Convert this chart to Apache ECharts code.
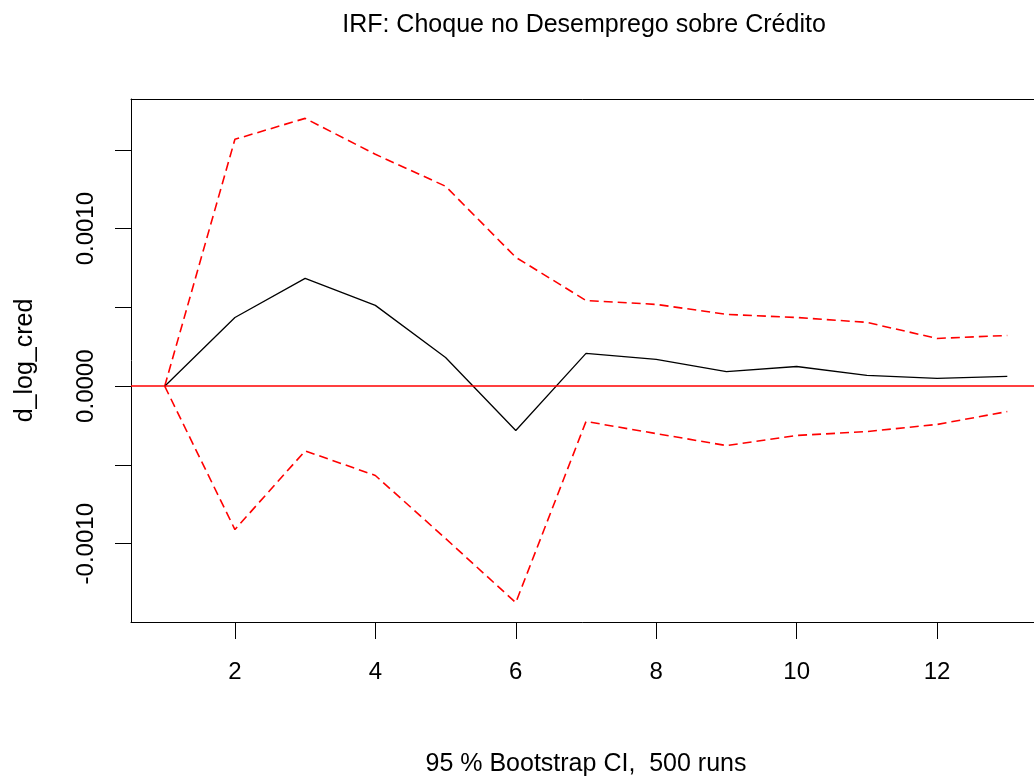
<!DOCTYPE html>
<html>
<head>
<meta charset="utf-8">
<script src="https://cdn.jsdelivr.net/npm/echarts@6/dist/echarts.min.js"></script>
<style>
    html, body { margin: 0; padding: 0; background: #fff; }
    #echarts-irf-graph { width: 1034px; height: 780px; }
</style>
</head>
<body>
<div id="echarts-irf-graph"></div>
<script>
// horizons of the impulse response
let horizons = [1, 2, 3, 4, 5, 6, 7, 8, 9, 10, 11, 12, 13];
// orthogonalised IRF: shock in unemployment -> d_log_cred
let irf_values = [0, 0.000436, 0.000684, 0.000513, 0.000182, -0.000281, 0.000208,
    0.000170, 0.000093, 0.000125, 0.000068, 0.000049, 0.000062];
// 95 % bootstrap band
let upper_ci = [0, 0.001567, 0.001700, 0.001472, 0.001269, 0.000818, 0.000544,
    0.000519, 0.000456, 0.000436, 0.000405, 0.000303, 0.000322];
let lower_ci = [0, -0.000910, -0.000411, -0.000567, -0.000967, -0.001374, -0.000224,
    -0.000301, -0.000377, -0.000313, -0.000288, -0.000243, -0.000161];
let x_ticks = [2, 4, 6, 8, 10, 12];
let y_ticks = [-0.0010, -0.0005, 0, 0.0005, 0.0010, 0.0015];
let y_labels = [-0.0010, 0, 0.0010];

const FONT = 'Liberation Sans, Arial, sans-serif';
const CI_COLOR = '#ff0000';

let echarts_irf_graph = echarts.init(document.getElementById('echarts-irf-graph'));

function pairs(values) {
    return horizons.map(function (h, i) { return [h, values[i]]; });
}

// R style axis range: data range stretched by 4% on both sides
function r_range(values) {
    let lo = Math.min.apply(null, values);
    let hi = Math.max.apply(null, values);
    let pad = (hi - lo) * 0.04;
    return [lo - pad, hi + pad];
}

let x_range = r_range(horizons);
let y_range = r_range(irf_values.concat(upper_ci, lower_ci));

let ci_line = {
    color: CI_COLOR,
    width: 1.6,
    type: [9, 5]
};

let echarts_options = {
    animation: false,
    backgroundColor: '#fff',
    title: {
        text: 'IRF: Choque no Desemprego sobre Crédito',
        left: 579,
        top: 8,
        textAlign: 'center',
        textStyle: {
            fontFamily: FONT,
            fontSize: 25,
            fontWeight: 'normal',
            color: '#000'
        }
    },
    // the plot box runs past the right edge of the picture, so no right border
    grid: {
        left: 131,
        top: 99,
        width: 910,
        height: 523,
        outerBoundsMode: 'none',
        show: false
    },
    xAxis: [
        {
            type: 'value',
            min: x_range[0],
            max: x_range[1],
            name: '95 % Bootstrap CI,  500 runs',
            nameLocation: 'middle',
            nameGap: 130,
            nameTextStyle: { fontFamily: FONT, fontSize: 25, color: '#000' },
            splitLine: { show: false },
            axisLine: { onZero: false, lineStyle: { color: '#000', width: 1 } },
            axisTick: {
                length: 17,
                customValues: x_ticks,
                lineStyle: { color: '#000', width: 1 }
            },
            axisLabel: {
                customValues: x_ticks,
                margin: 38,
                fontFamily: FONT,
                fontSize: 24,
                color: '#000'
            }
        },
        {
            // top edge of the box
            type: 'value',
            position: 'top',
            min: x_range[0],
            max: x_range[1],
            splitLine: { show: false },
            axisLine: { show: true, onZero: false, lineStyle: { color: '#000', width: 1 } },
            axisTick: { show: false },
            axisLabel: { show: false }
        }
    ],
    yAxis: {
        type: 'value',
        min: y_range[0],
        max: y_range[1],
        name: 'd_log_cred',
        nameLocation: 'middle',
        nameGap: 93,
        nameRotate: 90,
        nameTextStyle: { fontFamily: FONT, fontSize: 25, color: '#000' },
        splitLine: { show: false },
        axisLine: { show: true, onZero: false, lineStyle: { color: '#000', width: 1 } },
        axisTick: {
            show: true,
            length: 16,
            customValues: y_ticks,
            lineStyle: { color: '#000', width: 1 }
        },
        axisLabel: {
            customValues: y_labels,
            rotate: 90,
            margin: 33,
            fontFamily: FONT,
            fontSize: 24,
            color: '#000',
            formatter: function (v) { return v.toFixed(4); }
        }
    },
    series: [
        {
            name: 'upper',
            type: 'line',
            symbol: 'none',
            lineStyle: ci_line,
            data: pairs(upper_ci)
        },
        {
            name: 'lower',
            type: 'line',
            symbol: 'none',
            lineStyle: ci_line,
            data: pairs(lower_ci)
        },
        {
            name: 'd_log_cred',
            type: 'line',
            symbol: 'none',
            lineStyle: { color: '#000', width: 1.3 },
            data: pairs(irf_values),
            markLine: {
                silent: true,
                symbol: 'none',
                label: { show: false },
                lineStyle: { color: CI_COLOR, width: 1.5, type: 'solid' },
                data: [{ yAxis: 0 }]
            }
        }
    ]
};

echarts_irf_graph.setOption(echarts_options);
</script>
</body>
</html>
